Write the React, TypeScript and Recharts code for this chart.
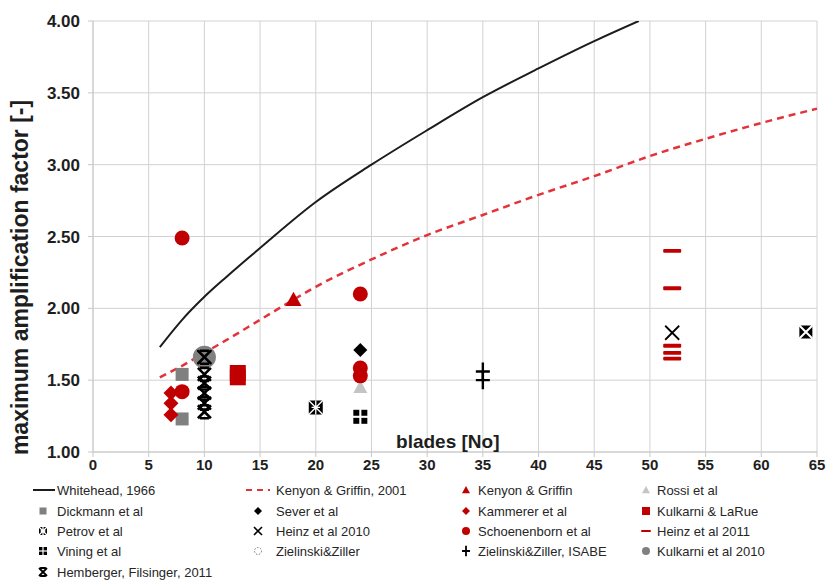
import React from "react";
import {
  ComposedChart,
  XAxis,
  YAxis,
  CartesianGrid,
  Line,
  Scatter,
  Legend,
} from "recharts";

// axis ticks
const xTicks = [0, 5, 10, 15, 20, 25, 30, 35, 40, 45, 50, 55, 60, 65];
const yTicks = [1, 1.5, 2, 2.5, 3, 3.5, 4];

// correlation curves
const whitehead = [
  { x: 6, y: 1.73 }, { x: 8, y: 1.92 }, { x: 10, y: 2.08 }, { x: 12, y: 2.22 },
  { x: 15, y: 2.42 }, { x: 20, y: 2.74 }, { x: 25, y: 3.0 }, { x: 30, y: 3.24 },
  { x: 35, y: 3.47 }, { x: 40, y: 3.67 }, { x: 45, y: 3.86 }, { x: 49, y: 4.0 },
];
const kenyonGriffin2001 = [
  { x: 6, y: 1.52 }, { x: 8, y: 1.6 }, { x: 10, y: 1.69 }, { x: 12, y: 1.78 },
  { x: 15, y: 1.92 }, { x: 18, y: 2.06 }, { x: 20, y: 2.15 }, { x: 25, y: 2.34 },
  { x: 30, y: 2.51 }, { x: 35, y: 2.65 }, { x: 40, y: 2.79 }, { x: 45, y: 2.92 },
  { x: 50, y: 3.06 }, { x: 55, y: 3.18 }, { x: 60, y: 3.29 }, { x: 65, y: 3.39 },
];

// measurements
const kenyonGriffin = [{ x: 18, y: 2.06 }];
const rossi = [{ x: 24, y: 1.45 }];
const dickmann = [{ x: 8, y: 1.54 }, { x: 8, y: 1.23 }];
const sever = [{ x: 24, y: 1.71 }];
const kammerer = [{ x: 7, y: 1.41 }, { x: 7, y: 1.34 }, { x: 7, y: 1.26 }];
const kulkarniLaRue = [{ x: 13, y: 1.55 }, { x: 13, y: 1.52 }];
const petrov = [{ x: 20, y: 1.31 }];
const heinz2010 = [{ x: 10, y: 1.66 }, { x: 52, y: 1.83 }];
const schoenenborn = [
  { x: 8, y: 2.49 }, { x: 8, y: 1.42 }, { x: 24, y: 2.1 },
  { x: 24, y: 1.585 }, { x: 24, y: 1.53 },
];
const heinz2011 = [
  { x: 52, y: 2.4 }, { x: 52, y: 2.14 }, { x: 52, y: 1.74 },
  { x: 52, y: 1.69 }, { x: 52, y: 1.65 },
];
const vining = [{ x: 24, y: 1.245 }];
const zielinski = [{ x: 64, y: 1.835 }];
const zielinskiIsabe = [{ x: 35, y: 1.56 }, { x: 35, y: 1.5 }];
const kulkarni2010 = [{ x: 10, y: 1.66 }];
const hemberger = [
  { x: 10, y: 1.66 }, { x: 10, y: 1.54 }, { x: 10, y: 1.48 },
  { x: 10, y: 1.41 }, { x: 10, y: 1.34 }, { x: 10, y: 1.28 },
];

const RED = "#c00000";
const GREY = "#808080";
const LIGHT = "#c4c4c4";
const FONT = "'Liberation Sans', Arial, sans-serif";

// marker drawing, s = half size
const mk = {
  circle: (cx, cy, s, fill) => <circle cx={cx} cy={cy} r={s} fill={fill} />,
  square: (cx, cy, s, fill) => <rect x={cx - s} y={cy - s} width={2 * s} height={2 * s} fill={fill} />,
  diamond: (cx, cy, s, fill) => (
    <path d={`M${cx},${cy - s}L${cx + s},${cy}L${cx},${cy + s}L${cx - s},${cy}Z`} fill={fill} />
  ),
  triangle: (cx, cy, s, fill) => (
    <path d={`M${cx},${cy - s}L${cx + s},${cy + s * 0.8}L${cx - s},${cy + s * 0.8}Z`} fill={fill} />
  ),
  dash: (cx, cy, s, fill) => <rect x={cx - s} y={cy - s * 0.22} width={2 * s} height={s * 0.44} rx={1} fill={fill} />,
  cross: (cx, cy, s, w = 1.6) => (
    <path d={`M${cx - s},${cy - s}L${cx + s},${cy + s}M${cx + s},${cy - s}L${cx - s},${cy + s}`} stroke="#000" strokeWidth={w} fill="none" />
  ),
  hemb: (cx, cy, s, w = 2.2) => (
    <path
      d={`M${cx - s},${cy - s}L${cx + s},${cy + s}M${cx + s},${cy - s}L${cx - s},${cy + s}M${cx - s * 0.7},${cy - s}L${cx + s * 0.7},${cy - s}M${cx - s * 0.7},${cy + s}L${cx + s * 0.7},${cy + s}`}
      stroke="#000"
      strokeWidth={w}
      fill="none"
    />
  ),
  plus: (cx, cy, s, w = 2.2) => (
    <path d={`M${cx - s},${cy}L${cx + s},${cy}M${cx},${cy - s * 1.3}L${cx},${cy + s * 1.3}`} stroke="#000" strokeWidth={w} fill="none" />
  ),
  quad: (cx, cy, s) => {
    const q = s * 0.85;
    const g = s * 0.15;
    return (
      <g fill="#000">
        <rect x={cx - s} y={cy - s} width={q} height={q} />
        <rect x={cx + g} y={cy - s} width={q} height={q} />
        <rect x={cx - s} y={cy + g} width={q} height={q} />
        <rect x={cx + g} y={cy + g} width={q} height={q} />
      </g>
    );
  },
  petrov: (cx, cy, s) => (
    <g>
      <rect x={cx - s} y={cy - s} width={2 * s} height={2 * s} fill="#000" rx={1} />
      <path
        d={`M${cx - s},${cy - s}L${cx + s},${cy + s}M${cx + s},${cy - s}L${cx - s},${cy + s}M${cx},${cy - s}L${cx},${cy + s}M${cx - s * 0.6},${cy}L${cx + s * 0.6},${cy}`}
        stroke="#fff"
        strokeWidth={1.3}
      />
    </g>
  ),
  ziel: (cx, cy, s) => (
    <g>
      <rect x={cx - s} y={cy - s} width={2 * s} height={2 * s} fill="#000" rx={1} />
      <path d={`M${cx - s},${cy - s}L${cx + s},${cy + s}M${cx + s},${cy - s}L${cx - s},${cy + s}`} stroke="#fff" strokeWidth={2} />
    </g>
  ),
};

const shape = (fn) => (p) => <g>{fn(p.cx, p.cy)}</g>;

const legendItems = [
  ["Whitehead, 1966", (x, y) => <line x1={x - 10} x2={x + 12} y1={y} y2={y} stroke="#1c1c1c" strokeWidth={2} />],
  ["Kenyon & Griffin, 2001", (x, y) => <line x1={x - 12} x2={x + 12} y1={y} y2={y} stroke="#e2333b" strokeWidth={2.2} strokeDasharray="6 5" />],
  ["Kenyon & Griffin", (x, y) => mk.triangle(x, y, 4, RED)],
  ["Rossi et al", (x, y) => mk.triangle(x, y, 4, LIGHT)],
  ["Dickmann et al", (x, y) => mk.square(x, y, 3.5, GREY)],
  ["Sever et al", (x, y) => mk.diamond(x, y, 4, "#000")],
  ["Kammerer et al", (x, y) => mk.diamond(x, y, 4, RED)],
  ["Kulkarni & LaRue", (x, y) => mk.square(x, y, 4, RED)],
  ["Petrov et al", (x, y) => mk.petrov(x, y, 4)],
  ["Heinz et al 2010", (x, y) => mk.cross(x, y, 4, 1.6)],
  ["Schoenenborn et al", (x, y) => mk.circle(x, y, 4, RED)],
  ["Heinz et al 2011", (x, y) => mk.dash(x, y, 5, RED)],
  ["Vining et al", (x, y) => mk.quad(x, y, 4)],
  ["Zielinski&Ziller", (x, y) => <circle cx={x} cy={y} r={3.5} fill="none" stroke="#777" strokeWidth={1} strokeDasharray="1.5 1.5" />],
  ["Zielinski&Ziller, ISABE", (x, y) => mk.plus(x, y, 4, 1.8)],
  ["Kulkarni et al 2010", (x, y) => mk.circle(x, y, 4, GREY)],
  ["Hemberger, Filsinger, 2011", (x, y) => mk.hemb(x, y, 4, 1.8)],
];
const colMarker = [43, 258, 466, 646];
const colText = [57, 276, 478, 657];
const rowY = [12, 33, 53, 73, 94];

const renderLegend = () => (
  <svg width={827} height={103} style={{ display: "block" }}>
    {legendItems.map(([name, icon], i) => {
      const c = i % 4;
      const r = Math.floor(i / 4);
      return (
        <g key={name}>
          {icon(colMarker[c], rowY[r])}
          <text x={colText[c]} y={rowY[r] + 4.5} fontSize={13} fontFamily={FONT} fill="#262626">
            {name}
          </text>
        </g>
      );
    })}
  </svg>
);

export default function App() {
  return (
    <div style={{ position: "absolute", left: 0, top: 0, background: "#fff" }}>
      <ComposedChart
        width={827}
        height={581}
        margin={{ top: 21, right: 10, bottom: 0, left: 0 }}
        style={{ fontFamily: FONT }}
      >
        <CartesianGrid stroke="#d2d2d2" strokeWidth={1} />
        <XAxis
          type="number"
          dataKey="x"
          domain={[0, 65]}
          ticks={xTicks}
          interval={0}
          height={26}
          tickSize={5}
          tickMargin={2}
          stroke="#c8c8c8"
          tick={{ fontSize: 15, fontWeight: "bold", fill: "#1e1e1e" }}
          label={{
            content: ({ viewBox }) => (
              <text
                x={viewBox.x + viewBox.width * 0.49}
                y={viewBox.y - 4}
                textAnchor="middle"
                fontSize={19}
                fontWeight="bold"
                fontFamily={FONT}
                fill="#1e1e1e"
              >
                blades [No]
              </text>
            ),
          }}
        />
        <YAxis
          type="number"
          dataKey="y"
          domain={[1, 4]}
          ticks={yTicks}
          interval={0}
          allowDataOverflow
          width={93}
          tickSize={5}
          tickMargin={8}
          stroke="#c8c8c8"
          tickFormatter={(v) => v.toFixed(2)}
          tick={{ fontSize: 17, fontWeight: "bold", fill: "#1e1e1e" }}
          label={{
            content: ({ viewBox }) => {
              const x = viewBox.x + 28;
              const y = viewBox.y + viewBox.height * 0.595;
              return (
                <text
                  x={x}
                  y={y}
                  transform={`rotate(-90, ${x}, ${y})`}
                  textAnchor="middle"
                  fontSize={23}
                  fontWeight="bold"
                  fontFamily={FONT}
                  fill="#1e1e1e"
                >
                  maximum amplification factor [-]
                </text>
              );
            },
          }}
        />
        <Line data={whitehead} dataKey="y" type="monotone" stroke="#1c1c1c" strokeWidth={2} dot={false} isAnimationActive={false} />
        <Line
          data={kenyonGriffin2001}
          dataKey="y"
          type="monotone"
          stroke="#e2333b"
          strokeWidth={2.5}
          strokeDasharray="7 5"
          dot={false}
          isAnimationActive={false}
        />
        <Scatter data={kulkarni2010} shape={shape((x, y) => mk.circle(x, y, 11.5, GREY))} isAnimationActive={false} />
        <Scatter data={kenyonGriffin} shape={shape((x, y) => mk.triangle(x, y, 8, RED))} isAnimationActive={false} />
        <Scatter data={rossi} shape={shape((x, y) => mk.triangle(x, y, 7, LIGHT))} isAnimationActive={false} />
        <Scatter data={dickmann} shape={shape((x, y) => mk.square(x, y, 6.5, GREY))} isAnimationActive={false} />
        <Scatter data={sever} shape={shape((x, y) => mk.diamond(x, y, 7, "#000"))} isAnimationActive={false} />
        <Scatter data={kammerer} shape={shape((x, y) => mk.diamond(x, y, 7.5, RED))} isAnimationActive={false} />
        <Scatter data={kulkarniLaRue} shape={shape((x, y) => mk.square(x, y, 8, RED))} isAnimationActive={false} />
        <Scatter data={schoenenborn} shape={shape((x, y) => mk.circle(x, y, 7.5, RED))} isAnimationActive={false} />
        <Scatter data={petrov} shape={shape((x, y) => mk.petrov(x, y, 7))} isAnimationActive={false} />
        <Scatter data={vining} shape={shape((x, y) => mk.quad(x, y, 7))} isAnimationActive={false} />
        <Scatter data={zielinski} shape={shape((x, y) => mk.ziel(x, y, 6.5))} isAnimationActive={false} />
        <Scatter data={zielinskiIsabe} shape={shape((x, y) => mk.plus(x, y, 7, 2.4))} isAnimationActive={false} />
        <Scatter data={heinz2011} shape={shape((x, y) => mk.dash(x, y, 9, RED))} isAnimationActive={false} />
        <Scatter data={heinz2010} shape={shape((x, y) => mk.cross(x, y, 7, 1.8))} isAnimationActive={false} />
        <Scatter data={hemberger} shape={shape((x, y) => mk.hemb(x, y, 6.5, 2.6))} isAnimationActive={false} />
        <Legend verticalAlign="bottom" align="left" content={renderLegend} wrapperStyle={{ left: 0, width: 827, height: 103 }} />
      </ComposedChart>
    </div>
  );
}
